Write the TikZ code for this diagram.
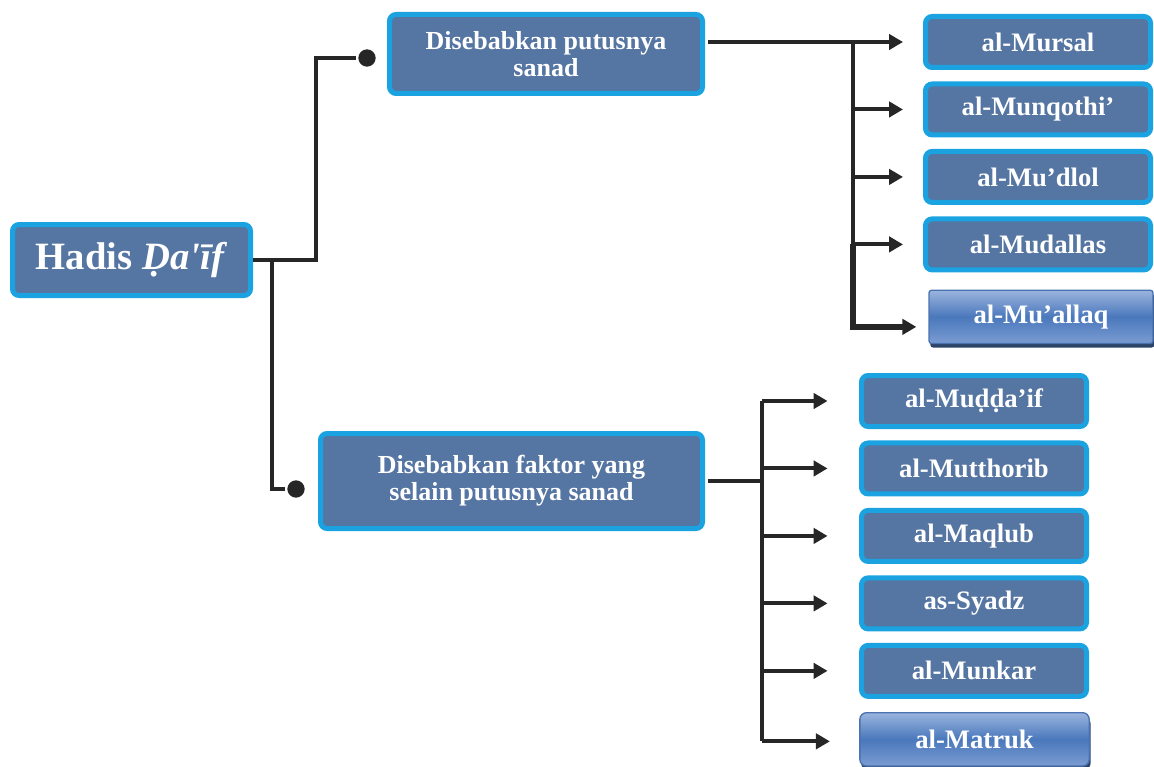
\documentclass[tikz,border=0pt]{standalone}
\usepackage{fontspec}
\setmainfont{Liberation Serif}
\usetikzlibrary{positioning,arrows.meta,shadows}
\definecolor{azulcaja}{HTML}{5575A2}
\definecolor{bordecaja}{HTML}{1AA3E0}
\definecolor{linea}{HTML}{262626}
\definecolor{brilloarriba}{HTML}{9AB4DE}
\definecolor{brillomedio}{HTML}{4A78BC}
\definecolor{brilloabajo}{HTML}{7B9CD2}
\definecolor{brilloborde}{HTML}{4A72B0}
\definecolor{sombra}{HTML}{2C4468}

\begin{document}
\begin{tikzpicture}[x=0.75pt,y=-0.75pt]
\useasboundingbox (0,0) rectangle (1154,767);
%% Draw the classification tree
  \begin{scope}[line width=3pt,draw=linea,
       node distance=50.6pt,on grid,>={Triangle[length=10.5pt,width=11.5pt]},
       caja/.style={rectangle,rounded corners=5pt,draw=bordecaja,line width=3.75pt,
         fill=azulcaja,text=white,font=\bfseries\fontsize{20}{22}\selectfont,
         inner sep=0pt,align=center,minimum width=168.75pt,minimum height=38.25pt},
       cajabrillo/.style={rectangle,rounded corners=2pt,draw=brilloborde,line width=1pt,
         top color=brilloarriba,bottom color=brilloabajo,middle color=brillomedio,
         text=white,font=\bfseries\fontsize{20}{22}\selectfont,inner sep=0pt,
         minimum width=168pt,minimum height=40pt,
         drop shadow={shadow xshift=1pt,shadow yshift=-3pt,fill=sombra,opacity=1}},
       punto/.style={circle,fill=linea,inner sep=0pt,minimum size=13pt},]
   \node [caja,minimum width=178.5pt,minimum height=53.25pt,
          font=\bfseries\fontsize{29}{32}\selectfont] (hadis) at (131.5,260)
          {Hadis \textit{Ḍa\textquotesingle īf}};
   \node [caja,minimum width=234.75pt,minimum height=59.25pt,
          font=\bfseries\fontsize{19.5}{20.25}\selectfont] (putus) at (546,54)
          {Disebabkan putusnya\\ sanad};
   \node [caja,minimum width=286.5pt,minimum height=71.25pt,
          font=\bfseries\fontsize{19.5}{20.25}\selectfont] (faktor) at (511.5,481)
          {Disebabkan faktor yang\\ selain putusnya sanad};
   \node [punto] (p1) at (367,58) {};
   \node [punto] (p2) at (296,489) {};
   \draw (hadis.east) -- ++(63,0) |- (p1);
   \draw (hadis.east) ++(19,0) |- (p2);
%% sanad terputus
   \node [caja] (mursal) at (1038,42) {al-Mursal};
   \node [caja] (munqothi) [below=of mursal] {al-Munqothi’};
   \node [caja] (mudlol) [below=of munqothi] {al-Mu’dlol};
   \node [caja] (mudallas) [below=of mudlol] {al-Mudallas};
   \node [cajabrillo] (muallaq) [below=of mudallas,xshift=2.25pt,yshift=-3.75pt] {al-Mu’allaq};
   \coordinate (bus1) at (853,42);
   \draw[->,shorten <=1.9pt] (putus.east |- mursal) -- ([xshift=-15pt]mursal.west);
   \draw[->] (bus1) |- ([xshift=-15pt]munqothi.west);
   \draw[->] (bus1) |- ([xshift=-15pt]mudlol.west);
   \draw[->] (bus1) |- ([xshift=-15pt]mudallas.west);
   \draw[->,line width=4.5pt] (bus1 |- mudallas) |- ([xshift=-9pt,yshift=-7.5pt]muallaq.west);
%% faktor lain
   \node [caja] (muddaif) at (974,401) {al-Muḍḍa’if};
   \node [caja] (mutthorib) [below=of muddaif] {al-Mutthorib};
   \node [caja] (maqlub) [below=of mutthorib] {al-Maqlub};
   \node [caja] (syadz) [below=of maqlub] {as-Syadz};
   \node [caja] (munkar) [below=of syadz] {al-Munkar};
   \node [cajabrillo,minimum width=172pt,rounded corners=5pt] (matruk) [below=of munkar,xshift=0.4pt,yshift=-0.75pt] {al-Matruk};
   \coordinate (bus2) at (762,401);
   \draw[shorten <=1.9pt] (faktor.east) -- (faktor.east -| bus2);
   \draw (bus2) -- ([yshift=-1.5pt]bus2 |- matruk);
   \draw[->] (bus2) -- ([xshift=-23.6pt]muddaif.west);
   \draw[->] (bus2 |- mutthorib) -- ([xshift=-23.6pt]mutthorib.west);
   \draw[->] (bus2 |- maqlub) -- ([xshift=-23.6pt]maqlub.west);
   \draw[->] (bus2 |- syadz) -- ([xshift=-23.6pt]syadz.west);
   \draw[->] (bus2 |- munkar) -- ([xshift=-23.6pt]munkar.west);
   \draw[->] ([yshift=-1.5pt]bus2 |- matruk) -- ([xshift=-22pt,yshift=-1.5pt]matruk.west);
  \end{scope}
\end{tikzpicture}
\end{document}
